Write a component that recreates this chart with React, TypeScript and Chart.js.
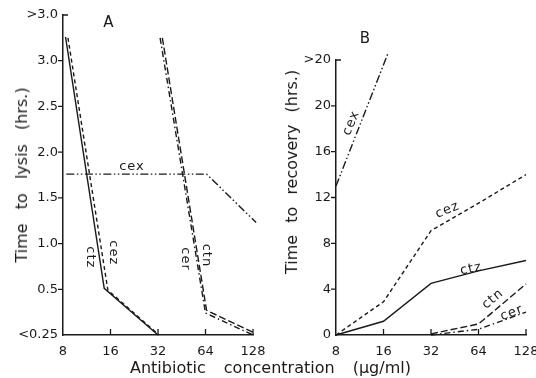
import React, { useEffect, useRef } from 'react';
import { Chart, registerables } from 'chart.js';

Chart.register(...registerables);

const INK = '#1a1a1a';
const FONT = '"DejaVu Sans", sans-serif';

// Shared x axis (antibiotic concentration, µg/ml, log2 spaced)
const concTicks = [8, 16, 32, 64, 128];

// Panel A: time to lysis (hrs.)
const lysisTicks = [0, 0.5, 1, 1.5, 2, 2.5, 3, 3.5];
const lysisTickLabels = ['<0.25', '0.5', '1.0', '1.5', '2.0', '2.5', '3.0', '>3.0'];

const lysisCtzConc = [8.3, 14.6, 32];
const lysisCtzHrs = [3.26, 0.51, 0];
const lysisCezConc = [8.6, 15.4, 32.5];
const lysisCezHrs = [3.25, 0.49, 0];
const lysisCerConc = [33, 64, 128];
const lysisCerHrs = [3.25, 0.24, 0];
const lysisCtnConc = [34.1, 65, 128];
const lysisCtnHrs = [3.25, 0.27, 0.03];
const lysisCexConc = [8.4, 65, 134];
const lysisCexHrs = [1.76, 1.76, 1.23];

// Panel B: time to recovery (hrs.)
const recoveryTicks = [0, 4, 8, 12, 16, 20, 24];
const recoveryTickLabels = ['0', '4', '8', '12', '16', '20', '>20'];

const recCexConc = [8, 17.1];
const recCexHrs = [13.0, 24.6];
const recCezConc = [8, 16, 32, 64, 128];
const recCezHrs = [0, 2.9, 9.1, 11.5, 14.0];
const recCtzConc = [8, 16, 32, 64, 128];
const recCtzHrs = [0, 1.2, 4.5, 5.6, 6.5];
const recCtnConc = [32, 64, 128];
const recCtnHrs = [0.1, 0.96, 4.45];
const recCerConc = [32, 64, 128];
const recCerHrs = [0, 0.5, 2.0];

const dashes: Record<string, number[]> = {
  ctz: [],
  cez: [4, 3],
  ctn: [7, 3],
  cer: [6, 3, 1.5, 3],
  cex: [8, 2.5, 1.5, 2.5, 1.5, 2.5],
};

type Lbl = { text: string; x: number; y: number; rot: number };
const lysisLabels: Lbl[] = [
  { text: 'cex', x: 21.9, y: 1.84, rot: 0 },
  { text: 'cez', x: 16.6, y: 0.9, rot: 90 },
  { text: 'ctz', x: 11.95, y: 0.85, rot: 90 },
  { text: 'ctn', x: 65.1, y: 0.87, rot: 90 },
  { text: 'cer', x: 48.0, y: 0.83, rot: 90 },
];
const recoveryLabels: Lbl[] = [
  { text: 'cex', x: 10.0, y: 18.5, rot: -68 },
  { text: 'cez', x: 40.7, y: 10.9, rot: -22 },
  { text: 'ctz', x: 57.4, y: 5.76, rot: -12 },
  { text: 'ctn', x: 79, y: 3.14, rot: -40 },
  { text: 'cer', x: 104, y: 1.92, rot: -20 },
];

function series(name: string, conc: number[], hrs: number[]) {
  return {
    label: name,
    data: conc.map((c, i) => ({ x: c, y: hrs[i] })),
    borderColor: INK,
    borderWidth: 1.4,
    borderDash: dashes[name],
    pointRadius: 0,
    tension: 0,
    fill: false,
    clip: false as any,
  };
}

const inkPlugin = (labels: Lbl[]) => ({
  id: 'inkExtras',
  afterDatasetsDraw(chart: any) {
    const { ctx, chartArea, scales } = chart;
    const x = scales.x;
    const y = scales.y;
    ctx.save();
    ctx.strokeStyle = INK;
    ctx.lineWidth = 1.3;
    ctx.beginPath();
    y.ticks.forEach((t: any, i: number) => {
      const py = y.getPixelForValue(t.value);
      if (i === y.ticks.length - 1) {
        ctx.moveTo(chartArea.left, py);
        ctx.lineTo(chartArea.left + 5, py);
      } else if (i > 0) {
        ctx.moveTo(chartArea.left - 5, py);
        ctx.lineTo(chartArea.left, py);
      }
    });
    x.ticks.forEach((t: any, i: number) => {
      if (i === 0) return;
      const px = x.getPixelForValue(t.value);
      ctx.moveTo(px, chartArea.bottom);
      ctx.lineTo(px, chartArea.bottom - 6);
    });
    ctx.stroke();
    ctx.fillStyle = INK;
    ctx.font = `13px ${FONT}`;
    try { (ctx as any).letterSpacing = '1px'; } catch (e) {}
    ctx.textAlign = 'center';
    ctx.textBaseline = 'middle';
    labels.forEach((l) => {
      const px = x.getPixelForValue(l.x);
      const py = y.getPixelForValue(l.y);
      ctx.save();
      ctx.translate(px, py);
      ctx.rotate((l.rot * Math.PI) / 180);
      ctx.fillText(l.text, 0, 0);
      ctx.restore();
    });
    ctx.restore();
  },
});

function makeConfig(
  datasets: any[],
  yTicks: number[],
  yLabels: string[],
  yWidth: number,
  padding: any,
  labels: Lbl[]
): any {
  return {
    type: 'line',
    data: { datasets },
    plugins: [inkPlugin(labels)],
    options: {
      animation: false,
      responsive: false,
      maintainAspectRatio: false,
      layout: { padding },
      plugins: { legend: { display: false }, tooltip: { enabled: false } },
      scales: {
        x: {
          type: 'logarithmic',
          min: 8,
          max: 128,
          afterBuildTicks: (s: any) => {
            s.ticks = concTicks.map((v) => ({ value: v }));
          },
          afterFit: (s: any) => {
            s.height = 43;
            s.paddingLeft = 0;
            s.paddingRight = 0;
          },
          grid: { display: false, drawTicks: false },
          border: { display: true, color: INK, width: 1.5 },
          ticks: {
            autoSkip: false,
            maxRotation: 0,
            padding: 9,
            color: INK,
            font: { family: FONT, size: 13 },
            callback: (v: any) => String(v),
          },
        },
        y: {
          type: 'linear',
          min: yTicks[0],
          max: yTicks[yTicks.length - 1],
          afterBuildTicks: (s: any) => {
            s.ticks = yTicks.map((v) => ({ value: v }));
          },
          afterFit: (s: any) => {
            s.width = yWidth;
            s.paddingTop = 0;
            s.paddingBottom = 0;
          },
          grid: { display: false, drawTicks: false },
          border: { display: true, color: INK, width: 1.5 },
          ticks: {
            autoSkip: false,
            padding: 5,
            color: INK,
            font: { family: FONT, size: 13 },
            callback: (_v: any, i: number) => yLabels[i],
          },
        },
      },
    },
  };
}

export default function App() {
  const refA = useRef<HTMLCanvasElement>(null);
  const refB = useRef<HTMLCanvasElement>(null);

  useEffect(() => {
    const a = new Chart(
      refA.current as HTMLCanvasElement,
      makeConfig(
        [
          series('ctz', lysisCtzConc, lysisCtzHrs),
          series('cez', lysisCezConc, lysisCezHrs),
          series('cer', lysisCerConc, lysisCerHrs),
          series('ctn', lysisCtnConc, lysisCtnHrs),
          series('cex', lysisCexConc, lysisCexHrs),
        ],
        lysisTicks,
        lysisTickLabels,
        63,
        { top: 15, right: 283, left: 0, bottom: 0 },
        lysisLabels
      )
    );
    const b = new Chart(
      refB.current as HTMLCanvasElement,
      makeConfig(
        [
          series('cex', recCexConc, recCexHrs),
          series('cez', recCezConc, recCezHrs),
          series('ctz', recCtzConc, recCtzHrs),
          series('ctn', recCtnConc, recCtnHrs),
          series('cer', recCerConc, recCerHrs),
        ],
        recoveryTicks,
        recoveryTickLabels,
        336,
        { top: 60, right: 10, left: 0, bottom: 0 },
        recoveryLabels
      )
    );
    return () => {
      a.destroy();
      b.destroy();
    };
  }, []);

  const txt: React.CSSProperties = {
    position: 'absolute',
    fontFamily: FONT,
    fontSize: 16,
    lineHeight: '16px',
    color: INK,
    whiteSpace: 'nowrap',
  };

  return (
    <div
      style={{
        position: 'fixed',
        left: 0,
        top: 0,
        width: 536,
        height: 378,
        background: '#fff',
        overflow: 'hidden',
      }}
    >
      <canvas ref={refA} width={536} height={378} style={{ position: 'absolute', left: 0, top: 0 }} />
      <canvas ref={refB} width={536} height={378} style={{ position: 'absolute', left: 0, top: 0 }} />
      <div
        style={{
          ...txt,
          left: 21.5,
          top: 175,
          wordSpacing: 9,
          transform: 'translate(-50%, -50%) rotate(-90deg)',
        }}
      >
        Time to lysis (hrs.)
      </div>
      <div
        style={{
          ...txt,
          left: 291.5,
          top: 171.5,
          wordSpacing: 7,
          transform: 'translate(-50%, -50%) rotate(-90deg)',
        }}
      >
        Time to recovery (hrs.)
      </div>
      <div style={{ ...txt, left: 130, top: 360, wordSpacing: 13 }}>
        Antibiotic concentration (µg/ml)
      </div>
      <div style={{ ...txt, fontSize: 15, left: 108.5, top: 22, transform: 'translate(-50%, -50%)' }}>A</div>
      <div style={{ ...txt, fontSize: 15, left: 365, top: 38, transform: 'translate(-50%, -50%)' }}>B</div>
    </div>
  );
}
